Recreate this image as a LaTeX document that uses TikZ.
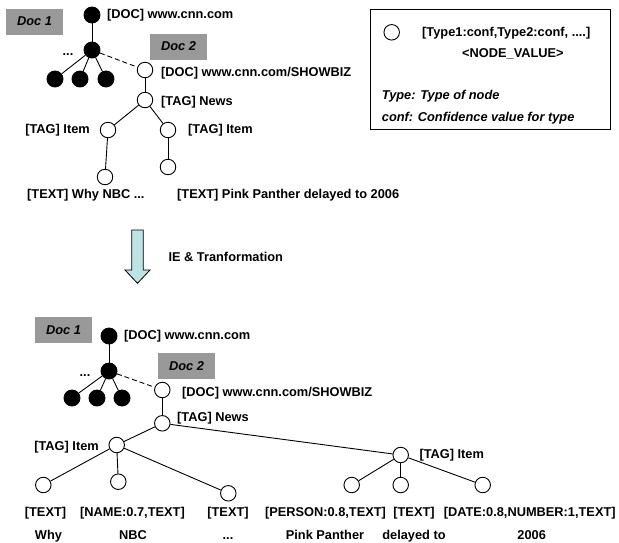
\documentclass[tikz,border=0pt]{standalone}
\usepackage{fontspec}
\setmainfont{Liberation Sans}
\newlength{\du}
\setlength{\du}{1pt}
\definecolor{docgray}{rgb}{0.600000, 0.600000, 0.600000}
\definecolor{arrowcyan}{rgb}{0.745000, 0.890000, 0.900000}

\begin{document}
\begin{tikzpicture}[
  txt/.style={font=\bfseries\fontsize{12.8}{15}\selectfont, inner sep=0pt},
  itxt/.style={font=\bfseries\itshape\fontsize{12.8}{15}\selectfont, inner sep=0pt},
  fullnode/.style={circle, draw=black, fill=black, line width=0.9pt, minimum size=16\du, inner sep=0pt},
  emptynode/.style={circle, draw=black, fill=white, line width=0.9pt, minimum size=15.5\du, inner sep=0pt},
  docbox/.style={itxt, fill=docgray, minimum width=57\du, minimum height=26\du},
  edge/.style={line width=0.9pt},
  docedge/.style={edge, dash pattern=on 5\du off 3\du}
]
\pgftransformxscale{1.000000}
\pgftransformyscale{-1.000000}
\useasboundingbox (0\du,0\du) rectangle (619\du,542\du);
% before: crawled documents
\node[docbox] (doc1a) at (34.5\du,21.5\du) {Doc 1};
\node[docbox] (doc2a) at (178.5\du,46.5\du) {Doc 2};
\node[fullnode] (ra) at (92\du,15\du) {};
\node[fullnode] (rb) at (92\du,50\du) {};
\node[fullnode] (rc) at (55\du,79\du) {};
\node[fullnode] (rd) at (80\du,79\du) {};
\node[fullnode] (re) at (106\du,79\du) {};
\node[emptynode] (sa) at (145\du,70\du) {};
\node[emptynode] (sb) at (145\du,100\du) {};
\node[emptynode] (sc) at (108\du,130\du) {};
\node[emptynode] (sd) at (168\du,130\du) {};
\node[emptynode] (se) at (105\du,177\du) {};
\node[emptynode] (sf) at (168\du,167\du) {};
\draw[edge] (ra)--(rb);
\draw[edge] (rb)--(rc);
\draw[edge] (rb)--(rd);
\draw[edge] (rb)--(re);
\draw[docedge] (rb)--(sa);
\draw[edge] (sa)--(sb);
\draw[edge] (sb)--(sc);
\draw[edge] (sb)--(sd);
\draw[edge] (sc)--(se);
\draw[edge] (sd)--(sf);
\node[txt, anchor=base west] (ralbl) at (107\du,18.5\du) {[DOC] www.cnn.com};
\node[txt, anchor=base] (rdots) at (68\du,55\du) {...};
\node[txt, anchor=base west] (salbl) at (161\du,76\du) {[DOC] www.cnn.com/SHOWBIZ};
\node[txt, anchor=base west] (sblbl) at (161\du,105\du) {[TAG] News};
\node[txt, anchor=base east] (sclbl) at (90\du,133.5\du) {[TAG] Item};
\node[txt, anchor=base west] (sdlbl) at (188\du,133.5\du) {[TAG] Item};
\node[txt, anchor=base west] (selbl) at (27\du,198.5\du) {[TEXT] Why NBC ...};
\node[txt, anchor=base west] (sflbl) at (177\du,198.5\du) {[TEXT] Pink Panther delayed to 2006};
% legend
\draw[edge] (370\du,9\du) rectangle (610\du,129\du);
\node[emptynode] (key) at (391.7\du,32.3\du) {};
\node[txt, anchor=base west] (keya) at (422\du,36.8\du) {[Type1:conf,Type2:conf, ....]};
\node[txt, anchor=base west] (keyb) at (462\du,57.8\du) {<NODE\_VALUE>};
\node[itxt, anchor=base west] (keyc) at (381.7\du,99.5\du) {Type: Type of node};
\node[itxt, anchor=base west] (keyd) at (381.7\du,121\du) {conf: Confidence value for type};
% transformation arrow
\draw[line width=0.8pt, fill=arrowcyan] (131.7\du,230\du)--(143.3\du,230\du)--(143.3\du,270\du)--(150\du,270\du)
  --(137.5\du,283.3\du)--(125\du,270\du)--(131.7\du,270\du)--cycle;
\node[txt, anchor=base west] (ielbl) at (168.3\du,261\du) {IE \& Tranformation};
% after: typed nodes
\node[docbox] (doc1b) at (63.5\du,330\du) {Doc 1};
\node[docbox] (doc2b) at (186.5\du,366\du) {Doc 2};
\node[fullnode] (ua) at (109\du,336\du) {};
\node[fullnode] (ub) at (109\du,371\du) {};
\node[fullnode] (uc) at (72\du,398\du) {};
\node[fullnode] (ud) at (97\du,398\du) {};
\node[fullnode] (ue) at (122\du,398\du) {};
\node[emptynode] (va) at (162.3\du,390\du) {};
\node[emptynode] (vb) at (162.3\du,423.3\du) {};
\node[emptynode] (vc) at (116.7\du,445\du) {};
\node[emptynode] (vd) at (400.7\du,455\du) {};
\node[emptynode] (ve) at (43.3\du,485\du) {};
\node[emptynode] (vf) at (118.3\du,481.7\du) {};
\node[emptynode] (vg) at (228.3\du,493.3\du) {};
\node[emptynode] (vh) at (351.7\du,485\du) {};
\node[emptynode] (vi) at (400.7\du,485\du) {};
\node[emptynode] (vj) at (482.7\du,485\du) {};
\draw[edge] (ua)--(ub);
\draw[edge] (ub)--(uc);
\draw[edge] (ub)--(ud);
\draw[edge] (ub)--(ue);
\draw[docedge] (ub)--(va);
\draw[edge] (va)--(vb);
\draw[edge] (vb)--(vc);
\draw[edge] (vb)--(vd);
\draw[edge] (vc)--(ve);
\draw[edge] (vc)--(vf);
\draw[edge] (vc)--(vg);
\draw[edge] (vd)--(vh);
\draw[edge] (vd)--(vi);
\draw[edge] (vd)--(vj);
\node[txt, anchor=base west] (ualbl) at (124\du,339.5\du) {[DOC] www.cnn.com};
\node[txt, anchor=base] (udots) at (85\du,376\du) {...};
\node[txt, anchor=base west] (valbl) at (182\du,396\du) {[DOC] www.cnn.com/SHOWBIZ};
\node[txt, anchor=base west] (vblbl) at (177\du,421\du) {[TAG] News};
\node[txt, anchor=base east] (vclbl) at (99\du,450.5\du) {[TAG] Item};
\node[txt, anchor=base west] (vdlbl) at (419.3\du,458.5\du) {[TAG] Item};
\node[txt, anchor=base] (vetype) at (45.5\du,516\du) {[TEXT]};
\node[txt, anchor=base] (vftype) at (132.5\du,516\du) {[NAME:0.7,TEXT]};
\node[txt, anchor=base] (vgtype) at (228\du,516\du) {[TEXT]};
\node[txt, anchor=base] (vhtype) at (325.5\du,516\du) {[PERSON:0.8,TEXT]};
\node[txt, anchor=base] (vitype) at (414\du,516\du) {[TEXT]};
\node[txt, anchor=base] (vjtype) at (529.7\du,516\du) {[DATE:0.8,NUMBER:1,TEXT]};
\node[txt, anchor=base] (veval) at (48.5\du,539.5\du) {Why};
\node[txt, anchor=base] (vfval) at (133\du,539.5\du) {NBC};
\node[txt, anchor=base] (vgval) at (228\du,539.5\du) {...};
\node[txt, anchor=base] (vhval) at (325\du,539.5\du) {Pink Panther};
\node[txt, anchor=base] (vival) at (414\du,539.5\du) {delayed to};
\node[txt, anchor=base] (vjval) at (531.7\du,539.5\du) {2006};
\end{tikzpicture}
\end{document}
